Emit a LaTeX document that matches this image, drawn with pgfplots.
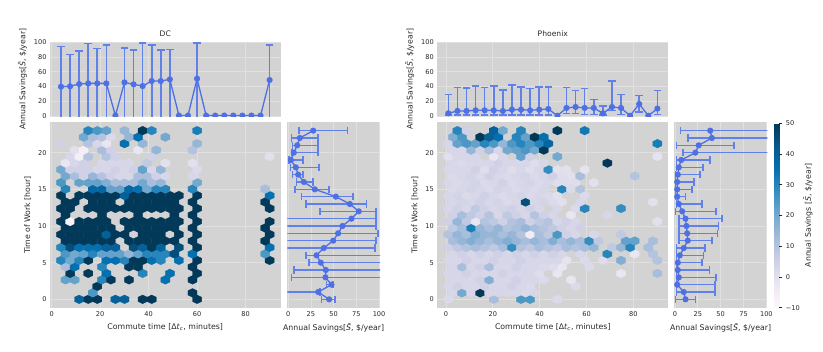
\documentclass[border=0pt]{standalone}
\usepackage{fontspec}
\setmainfont{DejaVu Sans}
\usepackage{pgfplots}
\usepackage{pgfplotstable}
\pgfplotsset{compat=1.18}

\definecolor{panel}{RGB}{211,211,211}
\definecolor{gridc}{RGB}{224,224,224}
\definecolor{txt}{RGB}{40,40,40}
\definecolor{lineb}{RGB}{78,112,228}
\definecolor{errb}{RGB}{96,128,234}

% hexagon as drawn by matplotlib hexbin (pointy top), sized to the axis scale
\pgfdeclareplotmark{hexa}{%
  \pgfpathmoveto{\pgfqpoint{4.55pt}{-2.16pt}}%
  \pgfpathlineto{\pgfqpoint{4.55pt}{2.16pt}}%
  \pgfpathlineto{\pgfqpoint{0pt}{4.32pt}}%
  \pgfpathlineto{\pgfqpoint{-4.55pt}{2.16pt}}%
  \pgfpathlineto{\pgfqpoint{-4.55pt}{-2.16pt}}%
  \pgfpathlineto{\pgfqpoint{0pt}{-4.32pt}}%
  \pgfpathclose
  \pgfusepathqfillstroke}

\newcommand{\sav}{Annual Savings[\textit{\={S}}, \$/year]}

\pgfplotsset{
  colormap={pubu}{rgb255=(255,247,251) rgb255=(236,231,242) rgb255=(208,209,230)
    rgb255=(166,189,219) rgb255=(116,169,207) rgb255=(54,144,192) rgb255=(5,112,176)
    rgb255=(4,90,141) rgb255=(2,56,88)},
  panel/.style={
    scale only axis, anchor=south west,
    axis background/.style={fill=panel},
    axis line style={draw=none},
    major tick length=0pt,
    grid=major, major grid style={gridc, line width=0.7pt},
    tick label style={font=\fontsize{6.6}{7}\selectfont, text=txt},
    label style={font=\fontsize{7.8}{9}\selectfont, text=txt},
    title style={font=\fontsize{7.6}{9}\selectfont, text=txt, yshift=-4.5pt},
    /pgf/number format/assume math mode=true,
    clip marker paths=true,
  },
  hexplot/.style={scatter, only marks, mark=hexa, point meta=explicit,
    scatter/use mapped color={draw=mapped color, fill=mapped color},
    mark options={line width=0.3pt}},
  meanline/.style={color=lineb, line width=1.3pt, mark=*, mark size=2.4pt,
    mark options={solid, fill=lineb}},
  ybars/.style={errb, line width=1.6pt, mark=-, mark size=3.8pt,
    mark options={solid}, unbounded coords=jump},
  xbars/.style={errb, line width=1.6pt, mark=|, mark size=3.8pt,
    mark options={solid}, unbounded coords=jump},
}

% DC hexbin: x y c (c = annual savings)
\pgfplotstableread[row sep=\\]{
x y c\\
11.33 0 40\\ 15.07 0 50\\ 18.81 0 50\\ 26.29 0 40\\ 30.03 0 40\\ 37.51 0 50\\ 41.25 0 50\\ 59.95 0 50\\
16.94 0.885 25\\ 58.08 0.885 50\\
18.81 1.769 50\\
5.72 2.654 22\\ 9.46 2.654 22\\ 20.68 2.654 30\\ 24.42 2.654 50\\ 31.90 2.654 50\\ 46.86 2.654 35\\ 58.08 2.654 50\\
7.59 3.538 50\\ 15.07 3.538 50\\ 22.55 3.538 35\\ 37.51 3.538 30\\ 48.73 3.538 35\\ 59.95 3.538 50\\
5.72 4.423 12\\ 9.46 4.423 35\\ 20.68 4.423 30\\ 31.90 4.423 50\\ 35.64 4.423 50\\ 58.08 4.423 50\\
3.85 5.308 30\\ 7.59 5.308 20\\ 11.33 5.308 30\\ 15.07 5.308 50\\ 22.55 5.308 35\\ 26.29 5.308 35\\ 30.03 5.308 30\\ 33.77 5.308 50\\ 37.51 5.308 50\\ 41.25 5.308 35\\ 44.99 5.308 30\\ 52.47 5.308 35\\ 59.95 5.308 50\\ 89.87 5.308 50\\
5.72 6.192 25\\ 9.46 6.192 20\\ 13.20 6.192 22\\ 16.94 6.192 30\\ 20.68 6.192 22\\ 24.42 6.192 22\\ 28.16 6.192 22\\ 31.90 6.192 15\\ 35.64 6.192 22\\ 39.38 6.192 30\\ 43.12 6.192 30\\ 46.86 6.192 30\\ 50.60 6.192 45\\ 58.08 6.192 35\\ 88.00 6.192 25\\
3.85 7.077 30\\ 7.59 7.077 45\\ 11.33 7.077 35\\ 15.07 7.077 35\\ 18.81 7.077 35\\ 22.55 7.077 40\\ 26.29 7.077 40\\ 33.77 7.077 45\\ 37.51 7.077 40\\ 41.25 7.077 50\\ 44.99 7.077 40\\ 52.47 7.077 45\\ 59.95 7.077 50\\ 89.87 7.077 35\\
5.72 7.962 50\\ 9.46 7.962 50\\ 13.20 7.962 50\\ 16.94 7.962 50\\ 20.68 7.962 50\\ 24.42 7.962 50\\ 31.90 7.962 50\\ 35.64 7.962 50\\ 39.38 7.962 50\\ 43.12 7.962 50\\ 46.86 7.962 50\\ 50.60 7.962 50\\ 58.08 7.962 50\\ 88.00 7.962 50\\
3.85 8.846 50\\ 7.59 8.846 50\\ 11.33 8.846 50\\ 15.07 8.846 50\\ 18.81 8.846 50\\ 22.55 8.846 40\\ 26.29 8.846 50\\ 30.03 8.846 50\\ 37.51 8.846 50\\ 41.25 8.846 50\\ 44.99 8.846 50\\ 52.47 8.846 50\\ 59.95 8.846 50\\ 89.87 8.846 50\\
5.72 9.731 50\\ 9.46 9.731 50\\ 13.20 9.731 50\\ 16.94 9.731 50\\ 20.68 9.731 50\\ 24.42 9.731 50\\ 31.90 9.731 50\\ 35.64 9.731 50\\ 39.38 9.731 50\\ 43.12 9.731 50\\ 46.86 9.731 50\\ 50.60 9.731 50\\ 58.08 9.731 50\\ 88.00 9.731 50\\
3.85 10.615 50\\ 7.59 10.615 -8\\ 11.33 10.615 50\\ 15.07 10.615 50\\ 18.81 10.615 50\\ 22.55 10.615 50\\ 30.03 10.615 50\\ 33.77 10.615 50\\ 37.51 10.615 50\\ 41.25 10.615 50\\ 44.99 10.615 50\\ 48.73 10.615 50\\ 52.47 10.615 50\\ 59.95 10.615 50\\ 89.87 10.615 50\\
5.72 11.5 50\\ 20.68 11.5 50\\ 35.64 11.5 50\\ 50.60 11.5 50\\ 58.08 11.5 50\\
3.85 12.385 50\\ 7.59 12.385 50\\ 15.07 12.385 50\\ 18.81 12.385 50\\ 22.55 12.385 50\\ 26.29 12.385 50\\ 30.03 12.385 50\\ 33.77 12.385 50\\ 37.51 12.385 50\\ 41.25 12.385 50\\ 44.99 12.385 50\\ 48.73 12.385 50\\ 52.47 12.385 50\\ 59.95 12.385 50\\ 89.87 12.385 50\\
5.72 13.269 50\\ 9.46 13.269 50\\ 16.94 13.269 50\\ 20.68 13.269 50\\ 24.42 13.269 50\\ 31.90 13.269 50\\ 35.64 13.269 50\\ 39.38 13.269 50\\ 43.12 13.269 50\\ 46.86 13.269 50\\ 50.60 13.269 50\\ 58.08 13.269 50\\ 88.00 13.269 50\\
3.85 14.154 50\\ 11.33 14.154 50\\ 15.07 14.154 50\\ 18.81 14.154 50\\ 22.55 14.154 50\\ 26.29 14.154 50\\ 30.03 14.154 40\\ 33.77 14.154 50\\ 37.51 14.154 50\\ 41.25 14.154 50\\ 44.99 14.154 50\\ 48.73 14.154 50\\ 52.47 14.154 50\\ 59.95 14.154 50\\ 89.87 14.154 35\\
5.72 15.038 30\\ 16.94 15.038 38\\ 20.68 15.038 38\\ 24.42 15.038 22\\ 28.16 15.038 22\\ 31.90 15.038 38\\ 35.64 15.038 35\\ 39.38 15.038 20\\ 43.12 15.038 30\\ 46.86 15.038 30\\ 58.08 15.038 30\\ 88.00 15.038 12\\
3.85 15.923 25\\ 11.33 15.923 22\\ 15.07 15.923 22\\ 18.81 15.923 22\\ 22.55 15.923 18\\ 26.29 15.923 12\\ 30.03 15.923 12\\ 33.77 15.923 12\\ 37.51 15.923 20\\ 41.25 15.923 12\\ 44.99 15.923 15\\ 59.95 15.923 20\\
5.72 16.808 20\\ 9.46 16.808 12\\ 13.20 16.808 5\\ 16.94 16.808 15\\ 20.68 16.808 10\\ 24.42 16.808 5\\ 28.16 16.808 3\\ 31.90 16.808 3\\ 35.64 16.808 12\\ 39.38 16.808 12\\ 43.12 16.808 5\\ 46.86 16.808 3\\ 58.08 16.808 3\\
3.85 17.692 20\\ 7.59 17.692 5\\ 11.33 17.692 5\\ 15.07 17.692 5\\ 18.81 17.692 3\\ 22.55 17.692 3\\ 26.29 17.692 5\\ 30.03 17.692 3\\ 33.77 17.692 5\\ 37.51 17.692 22\\ 41.25 17.692 3\\ 44.99 17.692 15\\ 59.95 17.692 2\\
5.72 18.577 -2\\ 9.46 18.577 3\\ 13.20 18.577 5\\ 20.68 18.577 3\\ 24.42 18.577 3\\ 28.16 18.577 3\\ 31.90 18.577 3\\ 39.38 18.577 8\\ 46.86 18.577 0\\ 58.08 18.577 0\\
7.59 19.462 3\\ 11.33 19.462 -6\\ 15.07 19.462 10\\ 22.55 19.462 10\\ 26.29 19.462 5\\ 41.25 19.462 5\\ 89.87 19.462 0\\
9.46 20.346 0\\ 13.20 20.346 -6\\ 20.68 20.346 12\\ 24.42 20.346 5\\ 35.64 20.346 -2\\ 43.12 20.346 15\\ 58.08 20.346 10\\
3.85 21.231 5\\ 15.07 21.231 10\\ 18.81 21.231 3\\ 22.55 21.231 -2\\ 30.03 21.231 35\\ 37.51 21.231 15\\ 59.95 21.231 15\\
13.20 22.115 20\\ 16.94 22.115 12\\ 20.68 22.115 10\\ 24.42 22.115 2\\ 31.90 22.115 15\\ 35.64 22.115 35\\ 46.86 22.115 20\\
15.07 23 30\\ 18.81 23 25\\ 22.55 23 22\\ 30.03 23 15\\ 37.51 23 50\\ 41.25 23 30\\ 59.95 23 32\\
}\dchex

% Phoenix hexbin: x y c
\pgfplotstableread[row sep=\\]{
x y c\\
1.00 0 2\\ 20.40 0 12\\ 32.04 0 25\\ 35.92 0 25\\ 47.56 0 2\\
2.94 0.885 3\\ 6.82 0.885 20\\ 10.70 0.885 3\\ 14.58 0.885 50\\ 18.46 0.885 3\\ 22.34 0.885 3\\ 26.22 0.885 3\\ 30.10 0.885 3\\ 33.98 0.885 2\\ 37.86 0.885 3\\
1.00 1.769 3\\ 4.88 1.769 5\\ 8.76 1.769 3\\ 12.64 1.769 3\\ 16.52 1.769 5\\ 20.40 1.769 3\\ 24.28 1.769 3\\ 28.16 1.769 5\\ 32.04 1.769 3\\ 35.92 1.769 2\\ 55.32 1.769 2\\
2.94 2.654 3\\ 6.82 2.654 3\\ 10.70 2.654 3\\ 14.58 2.654 5\\ 18.46 2.654 18\\ 22.34 2.654 3\\ 26.22 2.654 3\\ 30.10 2.654 5\\ 33.98 2.654 3\\ 37.86 2.654 3\\ 41.74 2.654 2\\ 53.38 2.654 -2\\
1.00 3.538 3\\ 4.88 3.538 3\\ 8.76 3.538 5\\ 12.64 3.538 3\\ 16.52 3.538 3\\ 20.40 3.538 3\\ 24.28 3.538 5\\ 28.16 3.538 3\\ 32.04 3.538 3\\ 35.92 3.538 3\\ 39.80 3.538 1\\ 47.56 3.538 -2\\ 74.72 3.538 -2\\ 90.24 3.538 12\\
2.94 4.423 3\\ 6.82 4.423 12\\ 10.70 4.423 3\\ 14.58 4.423 5\\ 18.46 4.423 12\\ 22.34 4.423 3\\ 26.22 4.423 3\\ 30.10 4.423 5\\ 33.98 4.423 3\\ 37.86 4.423 3\\ 41.74 4.423 2\\ 45.62 4.423 1\\ 49.50 4.423 -2\\ 61.14 4.423 2\\
1.00 5.308 3\\ 4.88 5.308 3\\ 8.76 5.308 5\\ 12.64 5.308 3\\ 16.52 5.308 3\\ 20.40 5.308 5\\ 24.28 5.308 3\\ 28.16 5.308 3\\ 32.04 5.308 5\\ 35.92 5.308 3\\ 39.80 5.308 3\\ 43.68 5.308 3\\ 47.56 5.308 3\\ 51.44 5.308 -1\\ 59.20 5.308 2\\ 66.96 5.308 1\\ 74.72 5.308 18\\ 90.24 5.308 10\\
2.94 6.192 3\\ 6.82 6.192 5\\ 10.70 6.192 3\\ 14.58 6.192 5\\ 18.46 6.192 3\\ 22.34 6.192 5\\ 26.22 6.192 3\\ 30.10 6.192 5\\ 33.98 6.192 3\\ 37.86 6.192 5\\ 41.74 6.192 3\\ 45.62 6.192 5\\ 49.50 6.192 3\\ 57.26 6.192 3\\ 68.90 6.192 30\\ 80.54 6.192 -2\\ 88.30 6.192 10\\
1.00 7.077 5\\ 4.88 7.077 8\\ 8.76 7.077 10\\ 12.64 7.077 12\\ 16.52 7.077 10\\ 20.40 7.077 8\\ 24.28 7.077 12\\ 28.16 7.077 28\\ 32.04 7.077 10\\ 35.92 7.077 8\\ 39.80 7.077 12\\ 43.68 7.077 10\\ 47.56 7.077 8\\ 51.44 7.077 12\\ 55.32 7.077 10\\ 59.20 7.077 12\\ 63.08 7.077 15\\ 70.84 7.077 8\\ 74.72 7.077 15\\ 78.60 7.077 30\\ 86.36 7.077 12\\
2.94 7.962 12\\ 6.82 7.962 15\\ 10.70 7.962 18\\ 14.58 7.962 15\\ 18.46 7.962 12\\ 22.34 7.962 15\\ 26.22 7.962 18\\ 30.10 7.962 15\\ 33.98 7.962 12\\ 37.86 7.962 15\\ 41.74 7.962 12\\ 45.62 7.962 18\\ 49.50 7.962 12\\ 53.38 7.962 15\\ 57.26 7.962 12\\ 61.14 7.962 28\\ 65.02 7.962 8\\ 76.66 7.962 22\\ 80.54 7.962 22\\ 88.30 7.962 12\\
1.00 8.846 10\\ 4.88 8.846 15\\ 8.76 8.846 12\\ 12.64 8.846 18\\ 16.52 8.846 15\\ 20.40 8.846 15\\ 24.28 8.846 12\\ 28.16 8.846 15\\ 32.04 8.846 10\\ 35.92 8.846 -5\\ 39.80 8.846 12\\ 43.68 8.846 8\\ 47.56 8.846 25\\ 51.44 8.846 5\\ 55.32 8.846 3\\ 63.08 8.846 3\\ 74.72 8.846 8\\
2.94 9.731 8\\ 6.82 9.731 12\\ 10.70 9.731 32\\ 14.58 9.731 15\\ 18.46 9.731 12\\ 22.34 9.731 15\\ 26.22 9.731 10\\ 30.10 9.731 12\\ 33.98 9.731 15\\ 37.86 9.731 12\\ 41.74 9.731 10\\ 45.62 9.731 8\\ 49.50 9.731 5\\ 53.38 9.731 3\\ 57.26 9.731 5\\
1.00 10.615 5\\ 4.88 10.615 15\\ 8.76 10.615 8\\ 12.64 10.615 -2\\ 16.52 10.615 10\\ 20.40 10.615 8\\ 24.28 10.615 5\\ 28.16 10.615 10\\ 32.04 10.615 12\\ 35.92 10.615 5\\ 39.80 10.615 8\\ 43.68 10.615 10\\ 47.56 10.615 3\\ 51.44 10.615 5\\ 55.32 10.615 3\\ 90.24 10.615 0\\
2.94 11.5 5\\ 6.82 11.5 12\\ 10.70 11.5 8\\ 14.58 11.5 5\\ 18.46 11.5 10\\ 22.34 11.5 3\\ 26.22 11.5 8\\ 30.10 11.5 5\\ 33.98 11.5 3\\ 37.86 11.5 10\\ 41.74 11.5 5\\ 45.62 11.5 3\\ 53.38 11.5 -2\\ 68.90 11.5 3\\
1.00 12.385 3\\ 4.88 12.385 5\\ 8.76 12.385 3\\ 12.64 12.385 8\\ 16.52 12.385 5\\ 20.40 12.385 3\\ 24.28 12.385 4\\ 28.16 12.385 5\\ 32.04 12.385 3\\ 35.92 12.385 5\\ 39.80 12.385 3\\ 47.56 12.385 3\\ 55.32 12.385 2\\ 59.20 12.385 30\\ 74.72 12.385 28\\
2.94 13.269 3\\ 6.82 13.269 4\\ 10.70 13.269 3\\ 14.58 13.269 5\\ 18.46 13.269 3\\ 22.34 13.269 4\\ 26.22 13.269 2\\ 30.10 13.269 3\\ 33.98 13.269 45\\ 37.86 13.269 3\\ 41.74 13.269 4\\ 45.62 13.269 2\\ 49.50 13.269 0\\ 57.26 13.269 3\\ 88.30 13.269 0\\
1.00 14.154 3\\ 4.88 14.154 4\\ 8.76 14.154 2\\ 12.64 14.154 3\\ 16.52 14.154 5\\ 20.40 14.154 3\\ 24.28 14.154 2\\ 28.16 14.154 3\\ 32.04 14.154 4\\ 35.92 14.154 2\\ 39.80 14.154 3\\ 43.68 14.154 2\\ 47.56 14.154 0\\ 59.20 14.154 2\\
2.94 15.038 2\\ 6.82 15.038 3\\ 10.70 15.038 4\\ 14.58 15.038 3\\ 18.46 15.038 2\\ 22.34 15.038 4\\ 26.22 15.038 3\\ 30.10 15.038 2\\ 33.98 15.038 3\\ 37.86 15.038 2\\ 41.74 15.038 3\\ 49.50 15.038 30\\ 53.38 15.038 2\\ 57.26 15.038 10\\
1.00 15.923 3\\ 4.88 15.923 2\\ 8.76 15.923 3\\ 12.64 15.923 4\\ 16.52 15.923 2\\ 20.40 15.923 3\\ 24.28 15.923 5\\ 28.16 15.923 2\\ 32.04 15.923 3\\ 35.92 15.923 4\\ 39.80 15.923 2\\ 43.68 15.923 3\\ 47.56 15.923 1\\ 51.44 15.923 1\\ 55.32 15.923 1\\ 63.08 15.923 0\\
2.94 16.808 2\\ 6.82 16.808 3\\ 10.70 16.808 4\\ 14.58 16.808 2\\ 18.46 16.808 5\\ 22.34 16.808 3\\ 26.22 16.808 2\\ 30.10 16.808 3\\ 33.98 16.808 4\\ 37.86 16.808 2\\ 41.74 16.808 3\\ 45.62 16.808 5\\ 49.50 16.808 1\\ 53.38 16.808 0\\ 57.26 16.808 12\\ 80.54 16.808 10\\
1.00 17.692 3\\ 4.88 17.692 3\\ 8.76 17.692 3\\ 12.64 17.692 5\\ 16.52 17.692 1\\ 20.40 17.692 5\\ 24.28 17.692 3\\ 28.16 17.692 1\\ 32.04 17.692 3\\ 35.92 17.692 1\\ 39.80 17.692 3\\ 43.68 17.692 28\\ 47.56 17.692 0\\ 51.44 17.692 0\\ 59.20 17.692 -1\\
2.94 18.577 3\\ 6.82 18.577 2\\ 10.70 18.577 3\\ 14.58 18.577 3\\ 18.46 18.577 3\\ 22.34 18.577 5\\ 26.22 18.577 3\\ 30.10 18.577 3\\ 33.98 18.577 3\\ 37.86 18.577 1\\ 41.74 18.577 3\\ 68.90 18.577 50\\
1.00 19.462 0\\ 4.88 19.462 3\\ 8.76 19.462 3\\ 12.64 19.462 3\\ 20.40 19.462 -2\\ 24.28 19.462 3\\ 32.04 19.462 22\\ 35.92 19.462 5\\ 47.56 19.462 20\\ 90.24 19.462 -1\\
2.94 20.346 3\\ 6.82 20.346 3\\ 10.70 20.346 15\\ 14.58 20.346 5\\ 18.46 20.346 12\\ 22.34 20.346 3\\ 26.22 20.346 20\\ 30.10 20.346 22\\ 33.98 20.346 25\\ 37.86 20.346 20\\ 41.74 20.346 50\\
1.00 21.231 3\\ 4.88 21.231 22\\ 8.76 21.231 25\\ 12.64 21.231 22\\ 16.52 21.231 30\\ 20.40 21.231 25\\ 24.28 21.231 15\\ 28.16 21.231 25\\ 32.04 21.231 30\\ 35.92 21.231 25\\ 39.80 21.231 30\\ 43.68 21.231 38\\ 90.24 21.231 32\\
2.94 22.115 18\\ 6.82 22.115 25\\ 14.58 22.115 50\\ 18.46 22.115 40\\ 22.34 22.115 35\\ 30.10 22.115 30\\ 33.98 22.115 22\\ 37.86 22.115 50\\ 41.74 22.115 35\\
4.88 23 30\\ 8.76 23 5\\ 20.40 23 40\\ 24.28 23 20\\ 32.04 23 30\\ 47.56 23 50\\ 59.20 23 33\\
}\phxhex

\begin{document}
\begin{tikzpicture}
\useasboundingbox (0,0) rectangle (823pt,-352pt);

% ---------------- DC ----------------
\begin{axis}[panel, at={(50pt,-116.7pt)}, width=230.5pt, height=75pt,
  xmin=-0.69, xmax=94.36, ymin=-1, ymax=101,
  xtick={0,20,...,80}, xticklabel=\empty, ytick={0,20,...,100},
  ylabel={\sav}, title={DC}]
% error bar ends (low, high) per commute bin
\addplot[ybars] coordinates {
  (3.85,-5) (3.85,94.6) (3.85,nan)   (7.59,-5) (7.59,83.7) (7.59,nan)
  (11.33,-5) (11.33,88.7) (11.33,nan) (15.07,-5) (15.07,98.6) (15.07,nan)
  (18.81,-5) (18.81,91.9) (18.81,nan) (22.55,-5) (22.55,96.4) (22.55,nan)
  (30.03,-5) (30.03,92.8) (30.03,nan) (33.77,-5) (33.77,89.6) (33.77,nan)
  (37.51,-5) (37.51,99.0) (37.51,nan) (41.25,-5) (41.25,96.8) (41.25,nan)
  (44.99,-5) (44.99,89.6) (44.99,nan) (48.73,-5) (48.73,90.5) (48.73,nan)
  (59.95,-5) (59.95,99.5) (59.95,nan) (89.87,-5) (89.87,96.8)
};
\addplot[meanline] coordinates {
  (3.85,39.8) (7.59,40.3) (11.33,43.4) (15.07,44.3) (18.81,44.3) (22.55,44.3)
  (26.29,0.5) (30.03,45.7) (33.77,43.0) (37.51,40.7) (41.25,47.5) (44.99,47.5)
  (48.73,49.8) (52.47,0.5) (56.21,0.5) (59.95,50.7) (63.69,0.5) (67.43,0.5)
  (71.17,0.5) (74.91,0.5) (78.65,0.5) (82.39,0.5) (86.13,0.5) (89.87,48.9)
};
\end{axis}

\begin{axis}[panel, at={(50pt,-308.3pt)}, width=230.5pt, height=186.6pt,
  xmin=-0.69, xmax=94.36, ymin=-1.22, ymax=24.22,
  xtick={0,20,...,80}, ytick={0,5,...,20},
  xlabel={Commute time [Δ\textit{t}\textsubscript{\textit{c}}, minutes]},
  ylabel={Time of Work [hour]},
  colormap name=pubu, point meta min=-10, point meta max=50]
\addplot[hexplot] table[x=x, y=y, meta=c] {\dchex};
\end{axis}

\begin{axis}[panel, at={(287.3pt,-308.3pt)}, width=92.7pt, height=186.6pt,
  xmin=-1, xmax=101, ymin=-1.22, ymax=24.22,
  xtick={0,25,...,100}, ytick={0,5,...,20}, yticklabel=\empty,
  xlabel={\sav}]
\addplot[xbars] coordinates {
  (36.6,0) (51.3,0) (nan,0)   (-10,1) (34.8,1) (nan,1)
  (42.0,2) (49.5,2) (nan,2)   (3.7,3) (110,3) (nan,3)
  (6.2,4) (110,4) (nan,4)     (23.1,5) (110,5) (nan,5)
  (19.4,6) (110,6) (nan,6)    (-10,7) (95.2,7) (nan,7)
  (-10,8) (96.3,8) (nan,8)    (-10,9) (98.9,9) (nan,9)
  (-10,10) (96.3,10) (nan,10) (-10,11) (96.3,11) (nan,11)
  (34.8,12) (96.3,12) (nan,12) (19.4,13) (86.1,13) (nan,13)
  (14.6,14) (71.4,14) (nan,14) (7.3,15) (45.0,15) (nan,15)
  (9.2,16) (27.5,16) (nan,16) (4.8,17) (16.5,17) (nan,17)
  (2.6,18) (34.0,18) (nan,18) (1.1,19) (16.5,19) (nan,19)
  (4.0,20) (33.0,20) (nan,20) (4.8,21) (33.0,21) (nan,21)
  (3.7,22) (33.0,22) (nan,22) (12.1,23) (65.2,23)
};
\addplot[meanline] coordinates {
  (45.0,0) (33.0,1) (47.6,2) (41.0,3) (41.4,4) (35.9,5) (31.1,6) (39.2,7)
  (49.5,8) (54.9,9) (59.7,10) (69.6,11) (77.7,12) (67.8,13) (52.4,14) (29.3,15)
  (17.2,16) (11.0,17) (8.4,18) (2.9,19) (6.2,20) (9.9,21) (12.8,22) (27.5,23)
};
\end{axis}

% ---------------- Phoenix ----------------
\begin{axis}[panel, at={(437.3pt,-116.7pt)}, width=231pt, height=75pt,
  xmin=-3.71, xmax=94.9, ymin=-1, ymax=101,
  xtick={0,20,...,80}, xticklabel=\empty, ytick={0,20,...,100},
  ylabel={\sav}, title={Phoenix}]
\addplot[ybars] coordinates {
  (1.00,1.5) (1.00,29.0) (1.00,nan)   (4.88,1.5) (4.88,38.5) (4.88,nan)
  (8.76,1.5) (8.76,38.0) (8.76,nan)   (12.64,1.5) (12.64,40.7) (12.64,nan)
  (16.52,1.5) (16.52,38.5) (16.52,nan) (20.40,1.5) (20.40,40.7) (20.40,nan)
  (24.28,1.5) (24.28,35.7) (24.28,nan) (28.16,1.5) (28.16,42.5) (28.16,nan)
  (32.04,1.5) (32.04,39.4) (32.04,nan) (35.92,1.5) (35.92,37.6) (35.92,nan)
  (39.80,1.5) (39.80,39.4) (39.80,nan) (43.68,1.5) (43.68,39.4) (43.68,nan)
  (51.44,3.6) (51.44,38.5) (51.44,nan) (55.32,3.6) (55.32,34.4) (55.32,nan)
  (59.20,2.0) (59.20,37.1) (59.20,nan) (63.08,2.0) (63.08,22.2) (63.08,nan)
  (66.96,1.5) (66.96,13.6) (66.96,nan) (70.84,7.2) (70.84,47.5) (70.84,nan)
  (74.72,2.0) (74.72,29.4) (74.72,nan) (82.48,5.0) (82.48,27.6) (82.48,nan)
  (90.24,2.0) (90.24,34.8)
};
\addplot[meanline] coordinates {
  (1.00,3.6) (4.88,6.8) (8.76,6.8) (12.64,7.7) (16.52,7.7) (20.40,7.7)
  (24.28,6.8) (28.16,8.6) (32.04,8.6) (35.92,7.7) (39.80,8.6) (43.68,9.5)
  (47.56,0.3) (51.44,10.9) (55.32,12.2) (59.20,10.9) (63.08,10.9) (66.96,3.6)
  (70.84,12.2) (74.72,10.9) (78.60,0.3) (82.48,16.3) (86.36,0.3) (90.24,10.0)
};
\end{axis}

\begin{axis}[panel, at={(437.3pt,-308.3pt)}, width=231pt, height=186.6pt,
  xmin=-3.71, xmax=94.9, ymin=-1.22, ymax=24.22,
  xtick={0,20,...,80}, ytick={0,5,...,20},
  xlabel={Commute time [Δ\textit{t}\textsubscript{\textit{c}}, minutes]},
  ylabel={Time of Work [hour]},
  colormap name=pubu, point meta min=-10, point meta max=50]
\addplot[hexplot] table[x=x, y=y, meta=c] {\phxhex};
\end{axis}

\begin{axis}[panel, at={(674pt,-308.3pt)}, width=93.3pt, height=186.6pt,
  xmin=-1, xmax=101, ymin=-1.22, ymax=24.22,
  xtick={0,25,...,100}, ytick={0,5,...,20}, yticklabel=\empty,
  xlabel={\sav},
  colormap name=pubu, point meta min=-10, point meta max=50,
  colorbar, colorbar shift/.style={},
  colorbar style={
    at={(parent axis.north east)}, anchor=north west, xshift=6.7pt, yshift=-1.6pt,
    scale only axis, width=5.3pt, height=184.4pt,
    axis line style={draw=none},
    ytick={-10,0,10,20,30,40,50}, yticklabels={−10,0,10,20,30,40,50},
    ytick pos=right, yticklabel pos=right,
    major tick length=3pt, tick align=outside,
    major tick style={draw=txt, line width=0.6pt},
    tick label style={font=\fontsize{6.6}{7}\selectfont, text=txt},
    ylabel={Annual Savings [\textit{\={S}}, \$/year]},
    every axis y label/.style={at={(axis description cs:6.42,0.5)},
      rotate=90, anchor=center, font=\fontsize{7.8}{9}\selectfont, text=txt},
  }]
\addplot[xbars] coordinates {
  (0.7,0) (22.4,0) (nan,0)    (1.8,1) (44.0,1) (nan,1)
  (1.8,2) (44.0,2) (nan,2)    (1.8,3) (45.1,3) (nan,3)
  (1.8,4) (37.9,4) (nan,4)    (1.8,5) (29.6,5) (nan,5)
  (1.8,6) (31.4,6) (nan,6)    (1.8,7) (33.2,7) (nan,7)
  (4.3,8) (40.4,8) (nan,8)    (4.3,9) (46.6,9) (nan,9)
  (4.3,10) (47.7,10) (nan,10) (4.3,11) (51.3,11) (nan,11)
  (0.7,12) (45.1,12) (nan,12) (1.8,13) (29.6,13) (nan,13)
  (0.7,14) (11.5,14) (nan,14) (0.7,15) (18.8,15) (nan,15)
  (0.7,16) (20.6,16) (nan,16) (0.7,17) (27.1,17) (nan,17)
  (1.8,18) (30.7,18) (nan,18) (1.8,19) (38.6,19) (nan,19)
  (9.0,20) (110,20) (nan,20)  (1.8,21) (64.6,21) (nan,21)
  (14.4,22) (110,22) (nan,22) (6.1,23) (110,23)
};
\addplot[meanline] coordinates {
  (11.6,0) (9.7,1) (2.5,2) (4.3,3) (3.2,4) (3.2,5) (5.4,6) (9.7,7)
  (14.1,8) (13.4,9) (12.6,10) (11.6,11) (7.9,12) (4.3,13) (2.5,14) (2.5,15)
  (2.5,16) (3.2,17) (4.3,18) (6.9,19) (22.4,20) (26.0,21) (40.4,22) (38.6,23)
};
\end{axis}
\end{tikzpicture}
\end{document}
